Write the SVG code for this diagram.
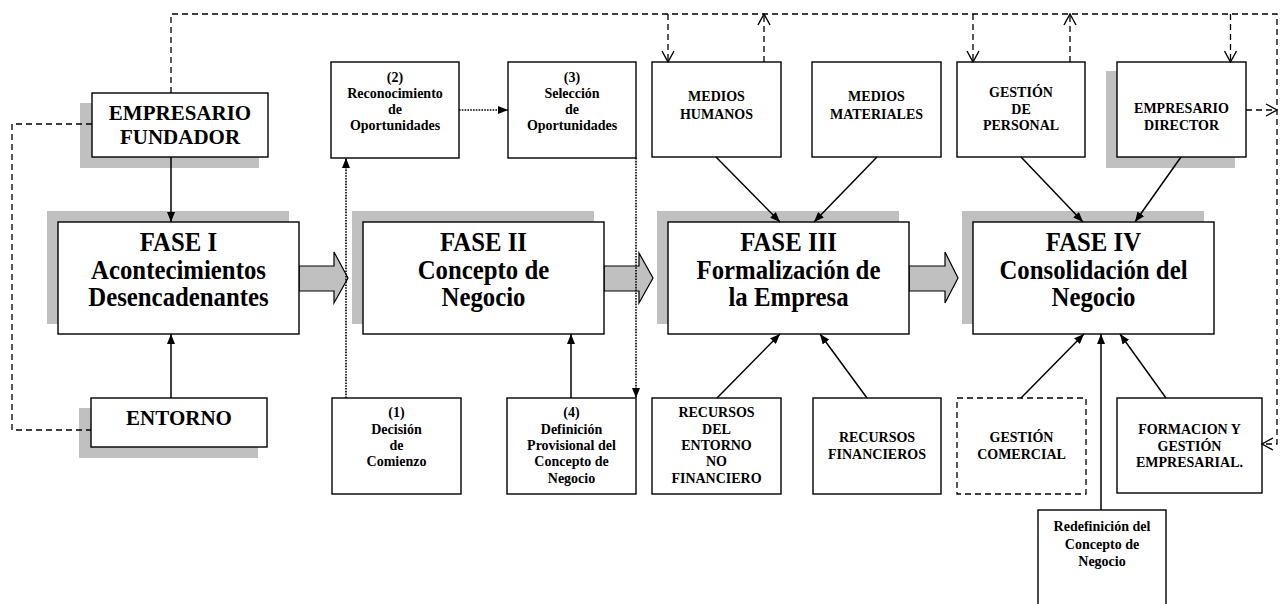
<svg xmlns="http://www.w3.org/2000/svg" width="1283" height="604" viewBox="0 0 1283 604">
<style>
.shadow{fill:#c0c0c0;stroke:none}
.box{fill:#fff;stroke:#000;stroke-width:1.4}
.dbox{fill:#fff;stroke:#000;stroke-width:1.3;stroke-dasharray:6 4}
.t{font-family:"Liberation Serif","Times New Roman",serif;font-weight:bold;text-anchor:middle;fill:#000}
.big{font-size:28px}
.med{font-size:21px}
.sm{font-size:14px}
.solid{fill:none;stroke:#000;stroke-width:1.5}
.dash{fill:none;stroke:#000;stroke-width:1.3;stroke-dasharray:6 4}
.dot{fill:none;stroke:#000;stroke-width:1.6;stroke-dasharray:1.6 1.2}
.block{fill:#c0c0c0;stroke:#000;stroke-width:1.2}
</style>
<defs>
<marker id="ah" viewBox="0 0 10 8" refX="10" refY="4" markerWidth="10" markerHeight="8" markerUnits="userSpaceOnUse" orient="auto">
<path d="M0,0 L10,4 L0,8 z" fill="#000"/>
</marker>
<marker id="oh" viewBox="-1 -1 13 14" refX="11" refY="6" markerWidth="13" markerHeight="14" markerUnits="userSpaceOnUse" orient="auto">
<path d="M0,0 L11,6 L0,12" fill="none" stroke="#000" stroke-width="1.4"/>
</marker>
</defs>

<g id="block-arrows">
<polygon class="block" points="299,266 334,266 334,252 348,278 334,303 334,291 299,291"/>
<polygon class="block" points="604,266 639,266 639,253 653,278 639,303 639,291 604,291"/>
<polygon class="block" points="909,266 945,266 945,252 958,278 945,303 945,291 909,291"/>
</g>

<g id="fase1">
<rect class="shadow" x="47" y="211" width="242" height="113"/>
<rect class="box" x="58" y="222" width="241" height="112"/>
<text class="t big" transform="matrix(0.886 0 0 1 20.35 0)"><tspan x="178.5" y="251.5">FASE I</tspan><tspan x="178.5" y="279">Acontecimientos</tspan><tspan x="178.5" y="306.5">Desencadenantes</tspan></text>
</g>
<g id="fase2">
<rect class="shadow" x="352" y="211" width="242" height="113"/>
<rect class="box" x="363" y="222" width="241" height="112"/>
<text class="t big" transform="matrix(0.886 0 0 1 55.12 0)"><tspan x="483.5" y="251.5">FASE II</tspan><tspan x="483.5" y="279">Concepto de</tspan><tspan x="483.5" y="306.5">Negocio</tspan></text>
</g>
<g id="fase3">
<rect class="shadow" x="657" y="211" width="242" height="113"/>
<rect class="box" x="668" y="222" width="241" height="112"/>
<text class="t big" transform="matrix(0.886 0 0 1 89.89 0)"><tspan x="788.5" y="251.5">FASE III</tspan><tspan x="788.5" y="279">Formalización de</tspan><tspan x="788.5" y="306.5">la Empresa</tspan></text>
</g>
<g id="fase4">
<rect class="shadow" x="962" y="211" width="242" height="113"/>
<rect class="box" x="973" y="222" width="241" height="112"/>
<text class="t big" transform="matrix(0.886 0 0 1 124.66 0)"><tspan x="1093.5" y="251.5">FASE IV</tspan><tspan x="1093.5" y="279">Consolidación del</tspan><tspan x="1093.5" y="306.5">Negocio</tspan></text>
</g>

<g id="empresario-fundador">
<rect class="shadow" x="80" y="103" width="179" height="65"/>
<rect class="box" x="92" y="93" width="176" height="64"/>
<text class="t med"><tspan x="180" y="120">EMPRESARIO</tspan><tspan x="180" y="144">FUNDADOR</tspan></text>
</g>
<g id="entorno">
<rect class="shadow" x="79" y="408" width="179" height="50"/>
<rect class="box" x="91" y="398" width="176" height="49"/>
<text class="t med" x="179" y="425" font-size="21.5">ENTORNO</text>
</g>

<g id="reconocimiento">
<rect class="box" x="331" y="62" width="128" height="96"/>
<text class="t sm"><tspan x="395" y="82">(2)</tspan><tspan x="395" y="98">Reconocimiento</tspan><tspan x="395" y="114">de</tspan><tspan x="395" y="130">Oportunidades</tspan></text>
</g>
<g id="seleccion">
<rect class="box" x="508" y="62" width="128" height="96"/>
<text class="t sm"><tspan x="572" y="82">(3)</tspan><tspan x="572" y="98">Selección</tspan><tspan x="572" y="114">de</tspan><tspan x="572" y="130">Oportunidades</tspan></text>
</g>
<g id="medios-humanos">
<rect class="box" x="652" y="62" width="129" height="95"/>
<text class="t sm"><tspan x="716.5" y="101">MEDIOS</tspan><tspan x="716.5" y="118.5">HUMANOS</tspan></text>
</g>
<g id="medios-materiales">
<rect class="box" x="812" y="62" width="129" height="95"/>
<text class="t sm"><tspan x="876.5" y="101">MEDIOS</tspan><tspan x="876.5" y="118.5">MATERIALES</tspan></text>
</g>
<g id="gestion-personal">
<rect class="box" x="957" y="62" width="128" height="95"/>
<text class="t sm"><tspan x="1021" y="97">GESTIÓN</tspan><tspan x="1021" y="113.5">DE</tspan><tspan x="1021" y="130">PERSONAL</tspan></text>
</g>
<g id="empresario-director">
<rect class="shadow" x="1106" y="71" width="129" height="97"/>
<rect class="box" x="1117" y="62" width="129" height="95"/>
<text class="t sm"><tspan x="1181.5" y="113">EMPRESARIO</tspan><tspan x="1181.5" y="130">DIRECTOR</tspan></text>
</g>

<g id="decision">
<rect class="box" x="332" y="398" width="129" height="96"/>
<text class="t sm"><tspan x="396.5" y="417">(1)</tspan><tspan x="396.5" y="433.5">Decisión</tspan><tspan x="396.5" y="450">de</tspan><tspan x="396.5" y="466">Comienzo</tspan></text>
</g>
<g id="definicion">
<rect class="box" x="507" y="398" width="129" height="96"/>
<text class="t sm"><tspan x="571.5" y="417">(4)</tspan><tspan x="571.5" y="433.5">Definición</tspan><tspan x="571.5" y="450">Provisional del</tspan><tspan x="571.5" y="466">Concepto de</tspan><tspan x="571.5" y="482.5">Negocio</tspan></text>
</g>
<g id="recursos-entorno">
<rect class="box" x="652" y="398" width="129" height="96"/>
<text class="t sm"><tspan x="716.5" y="417">RECURSOS</tspan><tspan x="716.5" y="433.5">DEL</tspan><tspan x="716.5" y="450">ENTORNO</tspan><tspan x="716.5" y="466">NO</tspan><tspan x="716.5" y="482.5">FINANCIERO</tspan></text>
</g>
<g id="recursos-financieros">
<rect class="box" x="813" y="398" width="128" height="96"/>
<text class="t sm"><tspan x="877" y="442">RECURSOS</tspan><tspan x="877" y="458.5">FINANCIEROS</tspan></text>
</g>
<g id="gestion-comercial">
<rect class="dbox" x="957" y="398" width="129" height="96"/>
<text class="t sm"><tspan x="1021.5" y="442">GESTIÓN</tspan><tspan x="1021.5" y="458.5">COMERCIAL</tspan></text>
</g>
<g id="formacion">
<rect class="box" x="1117" y="398" width="145" height="95"/>
<text class="t sm"><tspan x="1189.5" y="434">FORMACION Y</tspan><tspan x="1189.5" y="450.5">GESTIÓN</tspan><tspan x="1189.5" y="466.5">EMPRESARIAL.</tspan></text>
</g>
<g id="redefinicion">
<rect class="box" x="1038" y="510" width="128" height="100"/>
<text class="t sm"><tspan x="1102" y="531">Redefinición del</tspan><tspan x="1102" y="549">Concepto de</tspan><tspan x="1102" y="566">Negocio</tspan></text>
</g>

<g id="connectors">
<line class="solid" x1="171" y1="157" x2="171" y2="222" marker-end="url(#ah)"/>
<line class="solid" x1="171" y1="398" x2="171" y2="334" marker-end="url(#ah)"/>
<line class="solid" x1="571" y1="398" x2="571" y2="334" marker-end="url(#ah)"/>
<line class="solid" x1="716" y1="157" x2="780" y2="222" marker-end="url(#ah)"/>
<line class="solid" x1="877" y1="157" x2="814" y2="222" marker-end="url(#ah)"/>
<line class="solid" x1="1021" y1="157" x2="1083" y2="222" marker-end="url(#ah)"/>
<line class="solid" x1="1181" y1="157" x2="1135" y2="222" marker-end="url(#ah)"/>
<line class="solid" x1="717" y1="398" x2="780" y2="334" marker-end="url(#ah)"/>
<line class="solid" x1="867" y1="398" x2="820" y2="334" marker-end="url(#ah)"/>
<line class="solid" x1="1021" y1="398" x2="1084" y2="334" marker-end="url(#ah)"/>
<line class="solid" x1="1166" y1="398" x2="1120" y2="334" marker-end="url(#ah)"/>
<line class="solid" x1="1101" y1="510" x2="1101" y2="334" marker-end="url(#ah)"/>
<line class="dot" x1="346" y1="398" x2="346" y2="158" marker-end="url(#ah)"/>
<line class="dot" x1="459" y1="110" x2="508" y2="110" marker-end="url(#ah)"/>
<line class="dot" x1="636" y1="158" x2="636" y2="398" marker-end="url(#ah)"/>
<path class="dash" d="M171,93 V14 H1277 V444 H1262" marker-end="url(#oh)"/>
<path class="dash" d="M92,124 H12 V430 H91"/>
<line class="dash" x1="668" y1="14" x2="668" y2="62" marker-end="url(#oh)"/>
<line class="dash" x1="764" y1="62" x2="764" y2="14" marker-end="url(#oh)"/>
<line class="dash" x1="973" y1="14" x2="973" y2="62" marker-end="url(#oh)"/>
<line class="dash" x1="1070" y1="62" x2="1070" y2="14" marker-end="url(#oh)"/>
<line class="dash" x1="1230.5" y1="14" x2="1230.5" y2="62" marker-end="url(#oh)"/>
<line class="dash" x1="1246" y1="110" x2="1277" y2="110" marker-end="url(#oh)"/>
</g>
</svg>
